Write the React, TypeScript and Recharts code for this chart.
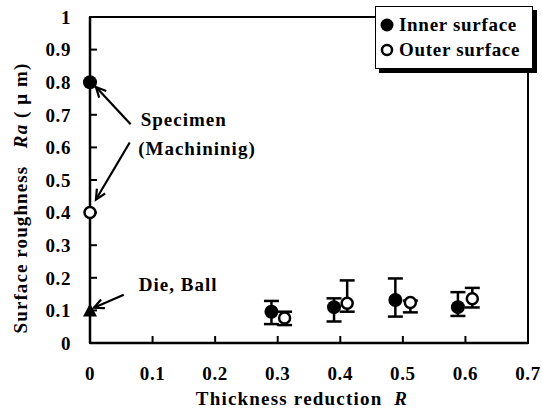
import React from 'react';
import {
  ScatterChart, Scatter, XAxis, YAxis, ErrorBar, ReferenceArea, ReferenceLine, ReferenceDot, Label,
} from 'recharts';

// Inner surface (filled circles)
const innerX = [0.29, 0.39, 0.488, 0.588];
const innerY = [0.096, 0.11, 0.132, 0.11];
const innerLow = [0.058, 0.066, 0.081, 0.083];
const innerHigh = [0.129, 0.137, 0.198, 0.156];

// Outer surface (open circles)
const outerX = [0.311, 0.411, 0.512, 0.611];
const outerY = [0.077, 0.122, 0.124, 0.136];
const outerLow = [0.055, 0.096, 0.094, 0.109];
const outerHigh = [0.096, 0.192, 0.13, 0.169];

// Specimen / die reference values at R = 0
const specimenInner = [{ x: 0, y: 0.8 }];
const specimenOuter = [{ x: 0, y: 0.4 }];
const dieBall = [{ x: 0, y: 0.1 }];

const xTicks = [0, 0.1, 0.2, 0.3, 0.4, 0.5, 0.6, 0.7];
const yTicks = [0, 0.1, 0.2, 0.3, 0.4, 0.5, 0.6, 0.7, 0.8, 0.9, 1];

const legendLabels = ['Inner surface', 'Outer surface'];

// annotation arrows: [fromX, fromY, toX, toY] in data units
const arrows = [
  [0.065, 0.671, 0.0095, 0.785],
  [0.0635, 0.615, 0.0095, 0.44],
  [0.054, 0.148, 0.0063, 0.108],
];
const notes = [
  { x: 0.081, y: 0.665, text: 'Specimen' },
  { x: 0.077, y: 0.578, text: '(Machininig)' },
  { x: 0.078, y: 0.16, text: 'Die, Ball' },
];

const build = (xs: number[], ys: number[], lo: number[], hi: number[]) =>
  xs.map((x, i) => ({ x, y: ys[i], err: [ys[i] - lo[i], hi[i] - ys[i]] }));

const innerData = build(innerX, innerY, innerLow, innerHigh);
const outerData = build(outerX, outerY, outerLow, outerHigh);

const FONT = '"Liberation Serif", "Times New Roman", serif';

const FilledDot = (p: any) => <circle cx={p.cx} cy={p.cy} r={7} fill="#000" />;
const OpenDot = (p: any) => (
  <circle cx={p.cx} cy={p.cy} r={5.5} fill="#fff" stroke="#000" strokeWidth={2.5} />
);
const Tri = (p: any) => (
  <path d={`M${p.cx},${p.cy - 7} L${p.cx + 7},${p.cy + 6} L${p.cx - 7},${p.cy + 6} Z`} fill="#000" />
);

const ArrowShape = (p: any) => {
  const { x1, y1, x2, y2 } = p;
  const ang = Math.atan2(y2 - y1, x2 - x1);
  const L = 11;
  const a1 = ang + Math.PI - 0.45;
  const a2 = ang + Math.PI + 0.45;
  return (
    <g>
      <line x1={x1} y1={y1} x2={x2} y2={y2} stroke="#000" strokeWidth={2.2} />
      <path
        d={`M${x2 + L * Math.cos(a1)},${y2 + L * Math.sin(a1)} L${x2},${y2} L${x2 + L * Math.cos(a2)},${y2 + L * Math.sin(a2)}`}
        fill="none"
        stroke="#000"
        strokeWidth={2.2}
      />
    </g>
  );
};

const LegendBox = () => (
  <div
    style={{
      position: 'absolute',
      left: 375,
      top: 6,
      width: 158,
      height: 63,
      border: '1.5px solid #000',
      boxShadow: '4px 4px 0 #000',
      background: '#fff',
      fontFamily: FONT,
      fontWeight: 'bold',
      fontSize: 19,
      letterSpacing: 0.7,
      padding: '5px 0 0 3px',
      boxSizing: 'border-box',
      lineHeight: '25px',
    }}
  >
    <div style={{ display: 'flex', alignItems: 'center' }}>
      <svg width={16} height={16} style={{ marginRight: 4 }}>
        <circle cx={8} cy={8} r={6.5} fill="#000" />
      </svg>
      {legendLabels[0]}
    </div>
    <div style={{ display: 'flex', alignItems: 'center' }}>
      <svg width={16} height={16} style={{ marginRight: 4 }}>
        <circle cx={8} cy={8} r={5} fill="#fff" stroke="#000" strokeWidth={2.5} />
      </svg>
      {legendLabels[1]}
    </div>
  </div>
);

const YLabel = (p: any) => {
  const vb = p.viewBox || {};
  const cx = 20;
  const cy = vb.y + vb.height / 2 + 18;
  return (
    <text
      x={cx}
      y={cy}
      transform={`rotate(-90, ${cx}, ${cy})`}
      textAnchor="middle"
      dominantBaseline="central"
      fontFamily={FONT}
      fontWeight="bold"
      fontSize={19}
      letterSpacing={1.1}
      fill="#000"
    >
      Surface roughness{'\u00a0\u00a0\u00a0'}
      <tspan fontStyle="italic">Ra</tspan>
      {'\u00a0( \u03bc m)'}
    </text>
  );
};

const XLabel = (p: any) => {
  const vb = p.viewBox || {};
  return (
    <text
      x={302}
      y={vb.y + 62}
      textAnchor="middle"
      fontFamily={FONT}
      fontWeight="bold"
      fontSize={19}
      letterSpacing={1.2}
      fill="#000"
    >
      Thickness reduction{'\u00a0\u00a0'}
      <tspan fontStyle="italic">R</tspan>
    </text>
  );
};

export default function App() {
  const tickStyle = { fontFamily: FONT, fontWeight: 'bold', fontSize: 19, letterSpacing: 0.6, fill: '#000' };
  return (
    <div style={{ position: 'absolute', left: 0, top: 0, width: 542, height: 415, background: '#fff' }}>
      <ScatterChart width={542} height={415} margin={{ top: 17, right: 14, bottom: 0, left: 0 }}>
        <XAxis
          type="number"
          dataKey="x"
          domain={[0, 0.7]}
          ticks={xTicks}
          tickFormatter={(v: number) => String(v)}
          height={72}
          tickSize={-7}
          tickMargin={31}
          axisLine={{ stroke: '#000', strokeWidth: 2.5 }}
          tickLine={{ stroke: '#000', strokeWidth: 2 }}
          tick={tickStyle}
        >
          <Label content={<XLabel />} />
        </XAxis>
        <YAxis
          type="number"
          dataKey="y"
          domain={[0, 1]}
          ticks={yTicks}
          tickFormatter={(v: number) => String(v)}
          width={90}
          tickSize={-7}
          tickMargin={26}
          axisLine={{ stroke: '#000', strokeWidth: 2.5 }}
          tickLine={{ stroke: '#000', strokeWidth: 2 }}
          tick={tickStyle}
        >
          <Label content={<YLabel />} />
        </YAxis>
        <ReferenceArea x1={0} x2={0.7} y1={0} y2={1} fill="none" stroke="#000" strokeWidth={2} ifOverflow="visible" />
        {arrows.map((a, i) => (
          <ReferenceLine
            key={`a${i}`}
            segment={[{ x: a[0], y: a[1] }, { x: a[2], y: a[3] }]}
            shape={<ArrowShape />}
            ifOverflow="visible"
          />
        ))}
        {notes.map((n, i) => (
          <ReferenceDot
            key={`n${i}`}
            x={n.x}
            y={n.y}
            r={0}
            ifOverflow="visible"
            shape={(p: any) => (
              <text x={p.cx} y={p.cy} fontFamily={FONT} fontWeight="bold" fontSize={19} fill="#000" letterSpacing={1}>
                {n.text}
              </text>
            )}
          />
        ))}
        <Scatter data={innerData} shape={<FilledDot />} isAnimationActive={false} legendType="none">
          <ErrorBar dataKey="err" direction="y" width={7.5} stroke="#000" strokeWidth={2.5} />
        </Scatter>
        <Scatter data={outerData} shape={<OpenDot />} isAnimationActive={false} legendType="none">
          <ErrorBar dataKey="err" direction="y" width={7.5} stroke="#000" strokeWidth={2.5} />
        </Scatter>
        <Scatter data={specimenInner} shape={<FilledDot />} isAnimationActive={false} legendType="none" />
        <Scatter data={specimenOuter} shape={<OpenDot />} isAnimationActive={false} legendType="none" />
        <Scatter data={dieBall} shape={<Tri />} isAnimationActive={false} legendType="none" />
      </ScatterChart>
      <LegendBox />
    </div>
  );
}
